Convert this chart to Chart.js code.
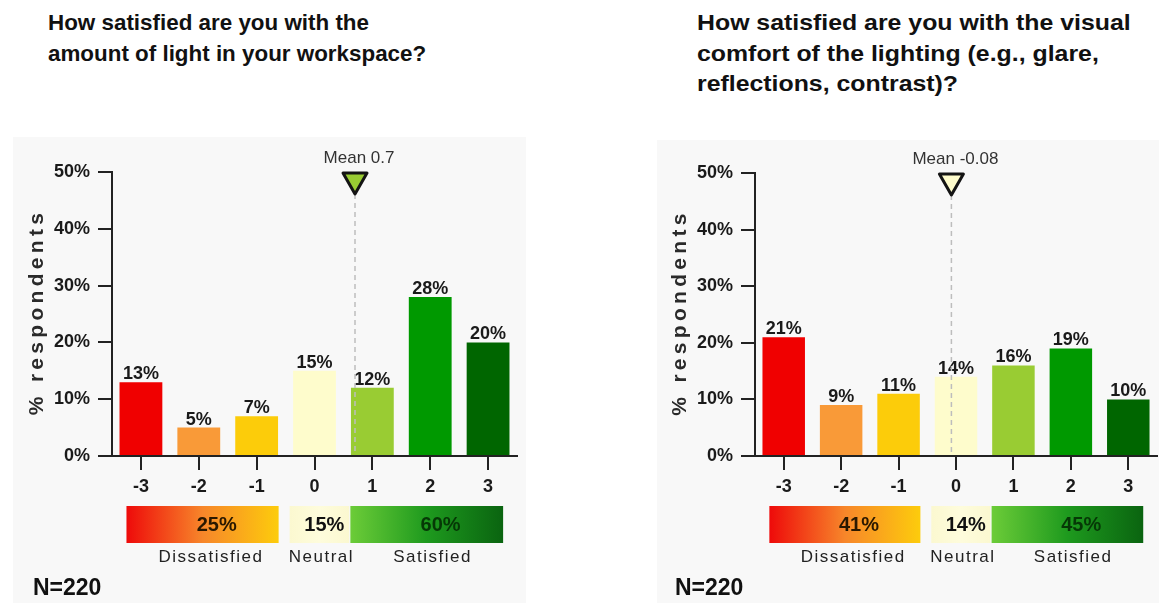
<!DOCTYPE html>
<html lang="en">
<head>
<meta charset="UTF-8">
<title>Lighting satisfaction</title>
<script src="https://cdn.jsdelivr.net/npm/chart.js"></script>
<style>
  body { margin: 0; background: #fff; font-family: "Liberation Sans", Arial, sans-serif; }
  .title { position: absolute; font-weight: bold; font-size: 22.4px; line-height: 30.5px; color: #111; transform-origin: 0 0; }
  .panel { position: absolute; background: #f8f8f8; }
</style>
</head>
<body>
<div class="title" style="left:48px; top:8px;">How satisfied are you with the<br>amount of light in your workspace?</div>
<div class="title" style="left:697px; top:8px; transform: scaleX(1.11);">How satisfied are you with the visual<br>comfort of the lighting (e.g., glare,<br>reflections, contrast)?</div>

<div class="panel" style="left:13px; top:137px; width:513px; height:466px;"><canvas id="light"></canvas></div>
<div class="panel" style="left:657px; top:140px; width:502px; height:463px;"><canvas id="comfort"></canvas></div>

<script>
const FONT = '"Liberation Sans", Arial, sans-serif';

// 7-point satisfaction scale
const scalePoints = ['-3', '-2', '-1', '0', '1', '2', '3'];
const pointColors = ['#f00000', '#f99a38', '#fccc0a', '#fefccc', '#99cc33', '#009900', '#006600'];

// % respondents per scale point
const lightShares = [13, 5, 7, 15, 12, 28, 20];
const comfortShares = [21, 9, 11, 14, 16, 19, 10];

const lightMean = 0.7;
const comfortMean = -0.08;
const sampleSize = 220;

// summary groups: name + range of scale indexes
const groupNames = ['Dissatisfied', 'Neutral', 'Satisfied'];
const groupRanges = [[0, 2], [3, 3], [4, 6]];

// band geometry in category units along the x scale
const bandStyle = [
  { from: -0.25, to: 2.38, textAt: 1.31, capAt: 1.21, stops: ['#ee0a0a', '#f7862a', '#fdcc0c'], ink: '#2a1800' },
  { from: 2.57, to: 3.6, textAt: 3.17, capAt: 3.12, stops: ['#fbf8d0', '#fefcdc', '#fbf8d0'], ink: '#111' },
  { from: 3.62, to: 6.26, textAt: 5.18, capAt: 5.04, stops: ['#6ccc38', '#1e9a1e', '#0a6410'], ink: '#063806' }
];

const surveyDecor = {
  id: 'surveyDecor',
  afterDatasetsDraw(chart, args, opts) {
    const { ctx, chartArea, scales: { x, y } } = chart;
    const values = chart.data.datasets[0].data;
    ctx.save();

    // value labels over bars
    ctx.font = 'bold 18px ' + FONT;
    ctx.fillStyle = '#1a1a1a';
    ctx.textAlign = 'center';
    ctx.textBaseline = 'alphabetic';
    chart.getDatasetMeta(0).data.forEach((bar, i) => {
      ctx.fillText(values[i] + '%', bar.x, bar.y - 3);
    });

    // mean marker
    const mx = x.getPixelForValue(opts.mean + 3);
    const top = y.getPixelForValue(50);
    ctx.strokeStyle = '#bdbdbd';
    ctx.lineWidth = 1.5;
    ctx.setLineDash([5, 4]);
    ctx.beginPath();
    ctx.moveTo(mx, top + 22);
    ctx.lineTo(mx, chartArea.bottom - 1);
    ctx.stroke();
    ctx.setLineDash([]);

    ctx.beginPath();
    ctx.moveTo(mx - 12, top + 1);
    ctx.lineTo(mx + 12, top + 1);
    ctx.lineTo(mx, top + 22);
    ctx.closePath();
    ctx.fillStyle = pointColors[Math.round(opts.mean) + 3];
    ctx.fill();
    ctx.strokeStyle = '#141414';
    ctx.lineWidth = 3;
    ctx.lineJoin = 'round';
    ctx.stroke();

    ctx.font = '17px ' + FONT;
    ctx.fillStyle = '#333';
    ctx.textBaseline = 'middle';
    ctx.fillText('Mean ' + opts.mean, mx + 4, top - 14);

    // y axis title, spaced out
    ctx.save();
    ctx.translate(opts.titleX, (chartArea.top + chartArea.bottom) / 2);
    ctx.rotate(-Math.PI / 2);
    ctx.font = 'bold 21px ' + FONT;
    ctx.letterSpacing = '4.3px';
    ctx.fillStyle = '#2a2a2a';
    ctx.textBaseline = 'alphabetic';
    ctx.fillText('% respondents', 2, 0);
    ctx.restore();

    // summary band
    const bandTop = chartArea.bottom + 50;
    const bandH = 37;
    groupRanges.forEach(([a, b], g) => {
      const st = bandStyle[g];
      const x0 = x.getPixelForValue(st.from);
      const x1 = x.getPixelForValue(st.to);
      const grad = ctx.createLinearGradient(x0, 0, x1, 0);
      st.stops.forEach((c, k) => grad.addColorStop(k / (st.stops.length - 1), c));
      ctx.fillStyle = grad;
      ctx.fillRect(x0, bandTop, x1 - x0, bandH);

      let total = 0;
      for (let i = a; i <= b; i++) total += values[i];
      ctx.font = 'bold 20px ' + FONT;
      ctx.letterSpacing = '0px';
      ctx.fillStyle = st.ink;
      ctx.textBaseline = 'middle';
      ctx.fillText(total + '%', x.getPixelForValue(st.textAt), bandTop + bandH / 2 + 1);

      ctx.font = '17px ' + FONT;
      ctx.letterSpacing = '1.5px';
      ctx.fillStyle = '#222';
      ctx.fillText(groupNames[g], x.getPixelForValue(st.capAt), chartArea.bottom + 101);
    });

    ctx.letterSpacing = '0px';
    ctx.font = 'bold 23px ' + FONT;
    ctx.fillStyle = '#111';
    ctx.textAlign = 'left';
    ctx.fillText('N=' + opts.n, opts.nX, chartArea.bottom + 133);

    ctx.restore();
  }
};

function makeChart(id, shares, mean, box) {
  return new Chart(document.getElementById(id), {
    type: 'bar',
    data: {
      labels: scalePoints,
      datasets: [{
        data: shares,
        backgroundColor: pointColors,
        barPercentage: 0.74,
        categoryPercentage: 1
      }]
    },
    options: {
      responsive: true,
      maintainAspectRatio: false,
      animation: false,
      layout: { padding: { top: box.top, right: box.right, left: 0, bottom: 0 } },
      plugins: {
        legend: { display: false },
        tooltip: { enabled: false },
        surveyDecor: { mean: mean, n: sampleSize, titleX: box.titleX, nX: box.nX }
      },
      scales: {
        x: {
          ticks: { color: '#1a1a1a', padding: 6, font: { family: FONT, size: 18, weight: 'bold' } },
          grid: { drawOnChartArea: false, offset: false, tickLength: 14, color: '#222', lineWidth: 2 },
          border: { color: '#222', width: 2 },
          afterFit: s => { s.height = box.xHeight; }
        },
        y: {
          min: 0,
          max: 50,
          ticks: { stepSize: 10, callback: v => v + '%', color: '#1a1a1a', padding: 8,
                   font: { family: FONT, size: 18, weight: 'bold' } },
          grid: { drawOnChartArea: false, tickLength: 14, color: '#222', lineWidth: 2 },
          border: { color: '#222', width: 2 },
          afterFit: s => { s.width = box.yWidth; }
        }
      }
    },
    plugins: [surveyDecor]
  });
}

makeChart('light', lightShares, lightMean, { top: 35, right: 9, yWidth: 99, xHeight: 147, titleX: 30, nX: 20 });
makeChart('comfort', comfortShares, comfortMean, { top: 33, right: 2, yWidth: 98, xHeight: 147, titleX: 29, nX: 18 });
</script>
</body>
</html>
